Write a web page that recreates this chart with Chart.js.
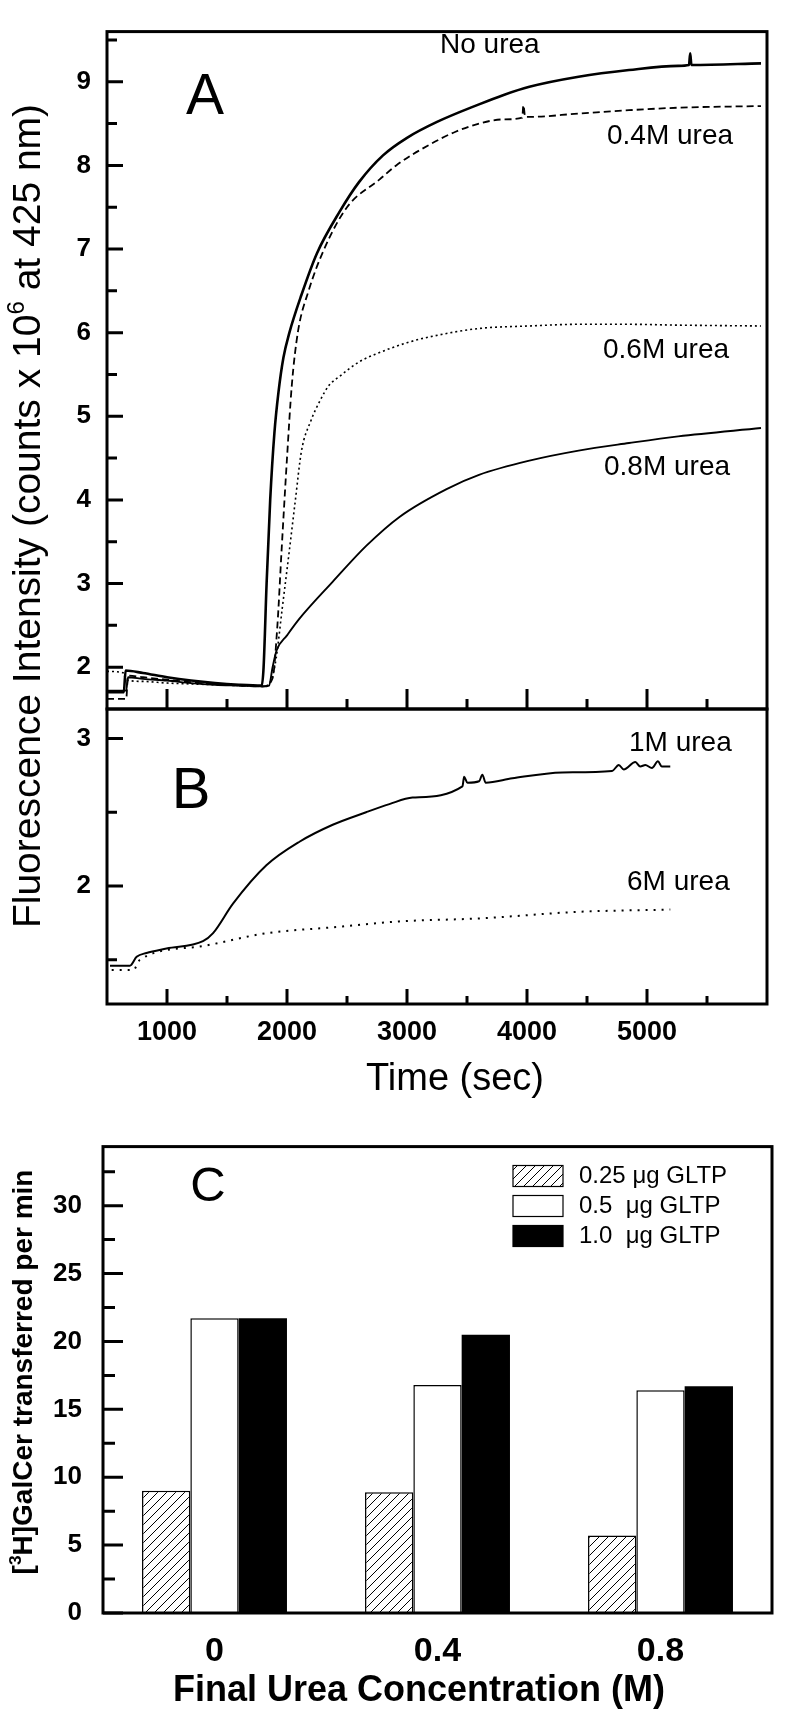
<!DOCTYPE html>
<html>
<head>
<meta charset="utf-8">
<script src="https://cdn.jsdelivr.net/npm/chart.js@4"></script>
<style>
  html, body { margin: 0; padding: 0; background: #fff; }
  #wrap { position: relative; width: 785px; height: 1720px; }
  canvas { position: absolute; left: 0; top: 0; }
  #chartC { top: 1110px; }
</style>
</head>
<body>
<div id="wrap">
  <canvas id="chartA" width="785" height="1120"></canvas>
  <canvas id="chartB" width="785" height="1120"></canvas>
  <canvas id="chartC" width="785" height="610"></canvas>
</div>
<script>
const FONT = 'Arial, "Liberation Sans", sans-serif'
Chart.defaults.font.family = FONT
Chart.defaults.font.weight = 'bold'
Chart.defaults.color = '#000'
Chart.defaults.animation = false

// panel A, time (sec) / intensity
const noUreaT = [500, 640, 655, 800, 1000, 1200, 1400, 1600, 1790, 1805, 1830, 1860, 1895, 1930, 1970, 2020, 2120, 2250, 2440, 2600, 2800, 3000, 3250, 3600, 3800, 4020, 4430, 4850, 5260, 5350, 5360, 5370, 5950]
const noUreaV = [1.70, 1.70, 1.96, 1.93, 1.88, 1.84, 1.81, 1.79, 1.78, 2.0, 3.0, 4.0, 4.8, 5.3, 5.7, 6.0, 6.45, 6.95, 7.45, 7.8, 8.12, 8.33, 8.52, 8.73, 8.84, 8.94, 9.06, 9.14, 9.19, 9.2, 9.34, 9.2, 9.22]

const urea04T = [500, 660, 675, 800, 1000, 1200, 1400, 1600, 1800, 1880, 1920, 1955, 2000, 2040, 2090, 2180, 2310, 2500, 2770, 2910, 3190, 3400, 3600, 3800, 3960, 3970, 3985, 4020, 4430, 4850, 5260, 5950]
const urea04V = [1.62, 1.62, 1.90, 1.88, 1.85, 1.82, 1.80, 1.78, 1.77, 1.87, 2.5, 3.4, 4.5, 5.37, 6.0, 6.5, 7.0, 7.5, 7.83, 8.0, 8.25, 8.4, 8.5, 8.55, 8.57, 8.72, 8.58, 8.58, 8.62, 8.66, 8.69, 8.71]

const urea06T = [500, 640, 655, 800, 1000, 1200, 1400, 1600, 1800, 1870, 1910, 1960, 2020, 2070, 2120, 2200, 2280, 2350, 2440, 2600, 2750, 3000, 3190, 3600, 4020, 4430, 4850, 5260, 5950]
const urea06V = [1.95, 1.93, 1.85, 1.83, 1.81, 1.80, 1.79, 1.78, 1.77, 1.85, 2.11, 2.7, 3.40, 4.0, 4.58, 4.95, 5.2, 5.37, 5.48, 5.65, 5.75, 5.88, 5.95, 6.05, 6.08, 6.1, 6.1, 6.09, 6.08]

const urea08T = [500, 660, 675, 800, 1000, 1200, 1400, 1600, 1800, 1850, 1880, 1913, 2000, 2104, 2380, 2660, 2940, 3330, 3600, 4020, 4430, 4850, 5260, 5950]
const urea08V = [1.72, 1.72, 1.88, 1.86, 1.84, 1.81, 1.79, 1.78, 1.77, 1.78, 2.0, 2.2, 2.38, 2.58, 3.02, 3.45, 3.8, 4.13, 4.30, 4.47, 4.59, 4.68, 4.76, 4.86]

// panel B
const urea1T = [525, 691, 747, 829, 996, 1300, 1384, 1550, 1828, 2104, 2381, 2659, 2853, 3046, 3462, 3476, 3504, 3601, 3628, 3656, 3878, 4294, 4709, 4765, 4806, 4903, 4944, 4986, 5041, 5091, 5124, 5194]
const urea1V = [1.46, 1.46, 1.52, 1.546, 1.576, 1.626, 1.68, 1.88, 2.14, 2.30, 2.415, 2.50, 2.555, 2.60, 2.675, 2.74, 2.70, 2.71, 2.755, 2.70, 2.73, 2.77, 2.78, 2.82, 2.79, 2.84, 2.81, 2.82, 2.80, 2.845, 2.81, 2.81]

const urea6T = [539, 719, 774, 1273, 1828, 2381, 2936, 3601, 4432, 5194]
const urea6V = [1.43, 1.43, 1.50, 1.59, 1.68, 1.72, 1.76, 1.78, 1.825, 1.84]

const timeMajor = [1000, 2000, 3000, 4000, 5000]
const timeMinor = [1500, 2500, 3500, 4500, 5500]
const aMajor = [2, 3, 4, 5, 6, 7, 8, 9]
const aMinor = [2.5, 3.5, 4.5, 5.5, 6.5, 7.5, 8.5, 9.5]
const bMajor = [2, 3]
const bMinor = [1.5, 2.5]

// panel C
const ureaConc = ['0', '0.4', '0.8']
const gltp025 = [9.0, 8.9, 5.7]
const gltp05 = [21.7, 16.8, 16.4]
const gltp10 = [21.7, 20.5, 16.7]
const cMajor = [0, 5, 10, 15, 20, 25, 30]
const cMinor = [2.5, 7.5, 12.5, 17.5, 22.5, 27.5, 32.5]

const C_TOP = 1110 // page offset of the panel C canvas

const pts = (t, v) => t.map((x, i) => ({x: x, y: v[i]}))
const plain = v => String(v)

function frame(chart, o) {
  const {ctx, chartArea: a} = chart
  const xs = chart.scales.x, ys = chart.scales.y
  ctx.save()
  ctx.strokeStyle = '#000'
  ctx.lineWidth = 3
  ctx.strokeRect(a.left, a.top, a.right - a.left, a.bottom - a.top)
  ctx.beginPath()
  o.yMajor.forEach(v => { const p = ys.getPixelForValue(v); ctx.moveTo(a.left, p); ctx.lineTo(a.left + o.yLen[0], p) })
  o.yMinor.forEach(v => { const p = ys.getPixelForValue(v); ctx.moveTo(a.left, p); ctx.lineTo(a.left + o.yLen[1], p) })
  if (o.xMajor) {
    o.xMajor.forEach(v => { const p = xs.getPixelForValue(v); ctx.moveTo(p, a.bottom); ctx.lineTo(p, a.bottom - o.xLen[0]) })
    o.xMinor.forEach(v => { const p = xs.getPixelForValue(v); ctx.moveTo(p, a.bottom); ctx.lineTo(p, a.bottom - o.xLen[1]) })
  }
  ctx.stroke()
  ctx.restore()
}

function texts(ctx, list) {
  ctx.save()
  ctx.fillStyle = '#000'
  ctx.textBaseline = 'middle'
  list.forEach(t => {
    ctx.font = (t.bold ? 'bold ' : 'normal ') + t.size + 'px ' + FONT
    ctx.textAlign = t.align || 'left'
    ctx.fillText(t.text, t.x, t.y)
  })
  ctx.restore()
}

// text runs with superscripts, centred on x/y along its own baseline
function rich(ctx, parts, x, y, rot, size, weight) {
  ctx.save()
  ctx.translate(x, y)
  ctx.rotate(rot)
  ctx.fillStyle = '#000'
  ctx.textAlign = 'left'
  ctx.textBaseline = 'alphabetic'
  const f = s => weight + ' ' + s + 'px ' + FONT
  let total = 0
  parts.forEach(p => { ctx.font = f(p.sup ? size * 0.62 : size); total += ctx.measureText(p.t).width })
  let cx = -total / 2
  parts.forEach(p => {
    ctx.font = f(p.sup ? size * 0.62 : size)
    ctx.fillText(p.t, cx, p.sup ? -size * 0.4 : 0)
    cx += ctx.measureText(p.t).width
  })
  ctx.restore()
}

const noGrid = {display: false, drawTicks: false}
const boldTick = size => ({family: FONT, size: size, weight: 700})

new Chart(document.getElementById('chartA'), {
  type: 'line',
  data: {
    datasets: [
      {label: 'No urea', data: pts(noUreaT, noUreaV), borderColor: '#000', borderWidth: 2.6},
      {label: '0.4M urea', data: pts(urea04T, urea04V), borderColor: '#000', borderWidth: 1.8, borderDash: [7, 4]},
      {label: '0.6M urea', data: pts(urea06T, urea06V), borderColor: '#000', borderWidth: 1.6, borderDash: [2, 3]},
      {label: '0.8M urea', data: pts(urea08T, urea08V), borderColor: '#000', borderWidth: 1.9}
    ]
  },
  options: {
    responsive: false,
    layout: {padding: {top: 19, right: 18, bottom: 390, left: 0}},
    elements: {point: {radius: 0}, line: {cubicInterpolationMode: 'monotone'}},
    plugins: {legend: {display: false}, tooltip: {enabled: false}},
    scales: {
      x: {
        type: 'linear', min: 500, max: 6000,
        grid: noGrid, border: {display: false}, ticks: {display: false},
        afterFit: s => { s.height = 21 }
      },
      y: {
        type: 'linear', min: 1.5, max: 9.6,
        grid: noGrid, border: {display: false},
        afterBuildTicks: s => { s.ticks = aMajor.map(v => ({value: v})) },
        ticks: {font: boldTick(26), padding: 16, callback: plain},
        afterFit: s => { s.width = 107 }
      }
    }
  },
  plugins: [{
    id: 'panelA',
    afterDraw: c => {
      frame(c, {yMajor: aMajor, yMinor: aMinor, yLen: [16, 10], xMajor: timeMajor, xMinor: timeMinor, xLen: [20, 10]})
      texts(c.ctx, [
        {text: 'A', x: 205, y: 98, size: 57, align: 'center'},
        {text: 'No urea', x: 440, y: 45, size: 28},
        {text: '0.4M urea', x: 607, y: 136, size: 28},
        {text: '0.6M urea', x: 603, y: 350, size: 28},
        {text: '0.8M urea', x: 604, y: 467, size: 28}
      ])
    }
  }]
})

new Chart(document.getElementById('chartB'), {
  type: 'line',
  data: {
    datasets: [
      {label: '1M urea', data: pts(urea1T, urea1V), borderColor: '#000', borderWidth: 2},
      {label: '6M urea', data: pts(urea6T, urea6V), borderColor: '#000', borderWidth: 2, borderDash: [2, 6]}
    ]
  },
  options: {
    responsive: false,
    layout: {padding: {top: 709, right: 18, bottom: 0, left: 0}},
    elements: {point: {radius: 0}, line: {cubicInterpolationMode: 'monotone'}},
    plugins: {legend: {display: false}, tooltip: {enabled: false}},
    scales: {
      x: {
        type: 'linear', min: 500, max: 6000,
        grid: noGrid, border: {display: false},
        afterBuildTicks: s => { s.ticks = timeMajor.map(v => ({value: v})) },
        ticks: {font: boldTick(27), padding: 12, maxRotation: 0, callback: plain},
        afterFit: s => { s.height = 116 }
      },
      y: {
        type: 'linear', min: 1.2, max: 3.2,
        grid: noGrid, border: {display: false},
        afterBuildTicks: s => { s.ticks = bMajor.map(v => ({value: v})) },
        ticks: {font: boldTick(26), padding: 16, callback: plain},
        afterFit: s => { s.width = 107 }
      }
    }
  },
  plugins: [{
    id: 'panelB',
    afterDraw: c => {
      frame(c, {yMajor: bMajor, yMinor: bMinor, yLen: [16, 10], xMajor: timeMajor, xMinor: timeMinor, xLen: [15, 8]})
      texts(c.ctx, [
        {text: 'B', x: 191, y: 792, size: 58, align: 'center'},
        {text: '1M urea', x: 629, y: 743, size: 28},
        {text: '6M urea', x: 627, y: 882, size: 28},
        {text: 'Time (sec)', x: 455, y: 1080, size: 38, align: 'center'}
      ])
      rich(c.ctx, [{t: 'Fluorescence Intensity (counts x 10'}, {t: '6', sup: true}, {t: ' at 425 nm)'}],
        40, 516, -Math.PI / 2, 39, 'normal')
    }
  }]
})

function hatch() {
  const p = document.createElement('canvas')
  p.width = 9
  p.height = 9
  const g = p.getContext('2d')
  g.fillStyle = '#fff'
  g.fillRect(0, 0, 9, 9)
  g.strokeStyle = '#000'
  g.lineWidth = 1
  g.beginPath()
  g.moveTo(-1, 10); g.lineTo(10, -1)
  g.moveTo(-1, 1); g.lineTo(1, -1)
  g.moveTo(8, 10); g.lineTo(10, 8)
  g.stroke()
  return g.createPattern(p, 'repeat')
}
const hatchFill = hatch()

new Chart(document.getElementById('chartC'), {
  type: 'bar',
  data: {
    labels: ureaConc,
    datasets: [
      {label: '0.25 \u03bcg GLTP', data: gltp025, backgroundColor: hatchFill, borderColor: '#000', borderWidth: 1.5},
      {label: '0.5  \u03bcg GLTP', data: gltp05, backgroundColor: '#fff', borderColor: '#000', borderWidth: 1.5},
      {label: '1.0  \u03bcg GLTP', data: gltp10, backgroundColor: '#000', borderColor: '#000', borderWidth: 0}
    ]
  },
  options: {
    responsive: false,
    layout: {padding: {top: 1130 - C_TOP, right: 13, bottom: 0, left: 0}},
    datasets: {bar: {categoryPercentage: 0.65, barPercentage: 1}},
    plugins: {legend: {display: false}, tooltip: {enabled: false}},
    scales: {
      x: {
        grid: noGrid, border: {display: false},
        ticks: {font: boldTick(34), padding: 18},
        afterFit: s => { s.height = 107 }
      },
      y: {
        min: 0, max: 34.35,
        grid: noGrid, border: {display: false},
        afterBuildTicks: s => { s.ticks = cMajor.map(v => ({value: v})) },
        ticks: {font: boldTick(26), padding: 21, callback: plain},
        afterFit: s => { s.width = 103 }
      }
    }
  },
  plugins: [{
    id: 'panelC',
    afterDraw: c => {
      const ctx = c.ctx
      frame(c, {yMajor: cMajor, yMinor: cMinor, yLen: [20, 12]})
      ctx.save()
      ctx.translate(0, -C_TOP)
      // legend
      const rows = [1176, 1206, 1236]
      c.data.datasets.forEach((d, i) => {
        ctx.fillStyle = d.backgroundColor
        ctx.fillRect(513, rows[i] - 10.5, 50, 21)
        ctx.strokeStyle = '#000'
        ctx.lineWidth = 1.2
        ctx.strokeRect(513, rows[i] - 10.5, 50, 21)
      })
      texts(ctx, c.data.datasets.map((d, i) => ({text: d.label, x: 579, y: rows[i], size: 24})))
      texts(ctx, [
        {text: 'C', x: 208, y: 1187, size: 49, align: 'center'},
        {text: 'Final Urea Concentration (M)', x: 419, y: 1691, size: 36, bold: true, align: 'center'}
      ])
      rich(ctx, [{t: '['}, {t: '3', sup: true}, {t: 'H]GalCer transferred per min'}],
        32, 1372, -Math.PI / 2, 28, 'bold')
      ctx.restore()
    }
  }]
})
</script>
</body>
</html>
